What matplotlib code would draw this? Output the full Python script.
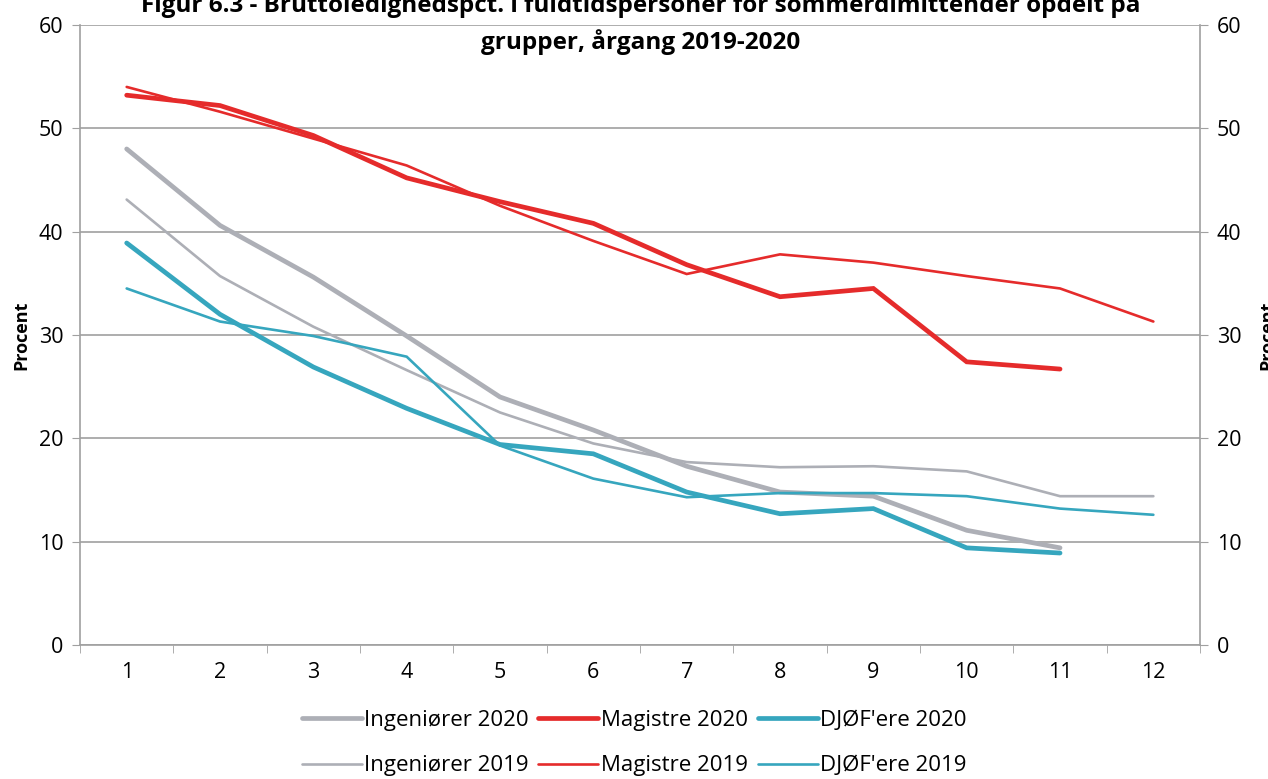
import numpy as np
import matplotlib
matplotlib.use('Agg')
import matplotlib.pyplot as plt

# ── Data ──
months = np.arange(1, 13)
ing_2020 = [48.0, 40.6, 35.6, 29.9, 24.0, 20.8, 17.3, 14.8, 14.4, 11.1, 9.4]
mag_2020 = [53.2, 52.2, 49.3, 45.2, 42.9, 40.8, 36.8, 33.7, 34.5, 27.4, 26.7]
djoef_2020 = [38.9, 32.0, 26.9, 22.9, 19.4, 18.5, 14.8, 12.7, 13.2, 9.4, 8.9]
ing_2019 = [43.1, 35.7, 30.8, 26.6, 22.5, 19.5, 17.7, 17.2, 17.3, 16.8, 14.4, 14.4]
mag_2019 = [54.0, 51.6, 49.0, 46.4, 42.5, 39.1, 35.9, 37.8, 37.0, 35.7, 34.5, 31.3]
djoef_2019 = [34.5, 31.3, 29.9, 27.9, 19.3, 16.1, 14.3, 14.7, 14.7, 14.4, 13.2, 12.6]

title_lines = ['Figur 6.3 - Bruttoledighedspct. i fuldtidspersoner for sommerdimittender opdelt på',
               'grupper, årgang 2019-2020']

plt.rcParams['font.family'] = ['Open Sans', 'DejaVu Sans']

GRAY = '#ADAFB6'
RED = '#E52B2B'
TEAL = '#36A6BE'
AXC = '#A0A0A0'

fig = plt.figure(figsize=(12.68, 7.79), dpi=100)
ax = fig.add_axes([0.0631, 0.172, 0.8833, 0.796])

series = [
    (ing_2020, GRAY, 3.4, 'Ingeniører 2020'),
    (ing_2019, GRAY, 1.9, 'Ingeniører 2019'),
    (mag_2020, RED, 3.4, 'Magistre 2020'),
    (mag_2019, RED, 1.9, 'Magistre 2019'),
    (djoef_2020, TEAL, 3.4, "DJØF'ere 2020"),
    (djoef_2019, TEAL, 1.9, "DJØF'ere 2019"),
]
for vals, col, lw, lab in series:
    ax.plot(months[:len(vals)], vals, color=col, lw=lw, label=lab,
            solid_capstyle='round', solid_joinstyle='miter')

ax.set_xlim(0.5, 12.5)
ax.set_ylim(0, 60)
ax.set_yticks(range(0, 61, 10))
ax.set_xticks(months)
ax.set_xticks(np.arange(0.5, 13, 1), minor=True)
ax.tick_params(axis='x', which='major', length=0, pad=12, labelsize=15.5)
ax.tick_params(axis='x', which='minor', length=6, color=AXC)
ax.tick_params(axis='y', length=6, color=AXC, labelsize=15.5, pad=6)
ax.grid(axis='y', color=AXC, lw=1.2)
ax.set_axisbelow(True)
for s in ['left', 'right', 'bottom']:
    ax.spines[s].set_color(AXC)
    ax.spines[s].set_linewidth(1.2)
ax.spines['top'].set_visible(False)
ax.set_ylabel('Procent', fontsize=13, fontweight='bold', labelpad=6)

ax2 = ax.twinx()
ax2.set_ylim(0, 60)
ax2.set_yticks(range(0, 61, 10))
ax2.tick_params(axis='y', length=6, color=AXC, labelsize=15.5, pad=6)
for s in ['left', 'right', 'bottom', 'top']:
    ax2.spines[s].set_visible(False)
ax2.set_ylabel('Procent', fontsize=13, fontweight='bold', rotation=90, labelpad=12)

# title, partly running off the top edge as in the source
fig.text(0.505, 1 - 5 / 779, title_lines[0], ha='center', va='center',
         fontsize=17.5, fontweight='bold')
fig.text(0.505, 1 - 42 / 779, title_lines[1], ha='center', va='center',
         fontsize=17.5, fontweight='bold')

fig.legend(loc='upper center', bbox_to_anchor=(0.5, 0.1), ncol=3, frameon=False,
           fontsize=16, handlelength=2.7, handletextpad=0.1, columnspacing=0.45,
           labelspacing=1.1, borderaxespad=0)

fig.savefig('out.png', dpi=100)
